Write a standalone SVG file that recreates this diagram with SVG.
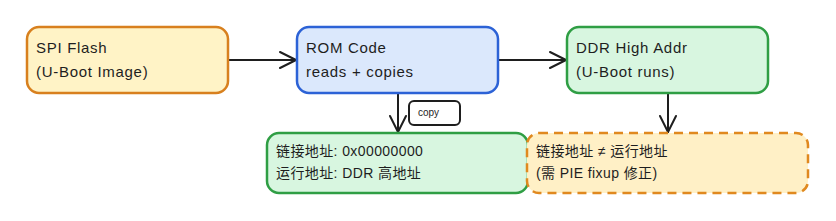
<svg xmlns="http://www.w3.org/2000/svg" width="836" height="221" viewBox="0 0 836 221">
<style>
text{font-family:"Liberation Sans","Noto Sans CJK SC",sans-serif;font-size:15px;letter-spacing:0.7px;fill:#1e1e1e}
.cjk{font-size:14px;letter-spacing:0.4px}
.lbl{font-size:10px;letter-spacing:0}
.edge{stroke:#1e1e1e;stroke-width:2;fill:none;stroke-linecap:round;stroke-linejoin:round}
.nd{stroke-width:2.5}
</style>
<defs>
<marker id="ah" viewBox="0 0 20 20" refX="18" refY="10" markerWidth="20" markerHeight="20" markerUnits="userSpaceOnUse" orient="auto">
<path d="M2,2 L18,10 L2,18" fill="none" stroke="#1e1e1e" stroke-width="2" stroke-linecap="round" stroke-linejoin="round"/>
</marker>
</defs>
<rect width="836" height="221" fill="#ffffff"/>
<g id="connectors">
<line class="edge" x1="228" y1="60" x2="296" y2="60" marker-end="url(#ah)"/>
<line class="edge" x1="498" y1="60" x2="566" y2="60" marker-end="url(#ah)"/>
<line class="edge" x1="398" y1="93" x2="398" y2="132" marker-end="url(#ah)"/>
<line class="edge" x1="668" y1="93" x2="668" y2="132" marker-end="url(#ah)"/>
<g id="copy-label">
<rect x="409" y="101" width="51" height="24" rx="5" fill="#ffffff" stroke="#1e1e1e" stroke-width="2"/>
<text class="lbl" x="418" y="116">copy</text>
</g>
</g>
<g id="spi-flash">
<rect class="nd" x="27" y="27" width="201" height="66" rx="12" fill="#fff3c6" stroke="#d8801e"/>
<text x="36" y="53">SPI Flash</text>
<text x="36" y="77">(U-Boot Image)</text>
</g>
<g id="rom-code">
<rect class="nd" x="297" y="27" width="201" height="66" rx="12" fill="#dbe8fc" stroke="#2c62d6"/>
<text x="306" y="53">ROM Code</text>
<text x="306" y="77">reads + copies</text>
</g>
<g id="ddr-high">
<rect class="nd" x="567" y="27" width="201" height="66" rx="12" fill="#d8f6e0" stroke="#2f9e44"/>
<text x="576" y="53">DDR High Addr</text>
<text x="576" y="77">(U-Boot runs)</text>
</g>
<g id="link-addr">
<rect class="nd" x="267" y="133" width="261" height="60" rx="12" fill="#d8f6e0" stroke="#2f9e44"/>
<text class="cjk" x="276" y="156">链接地址: 0x00000000</text>
<text class="cjk" x="276" y="178">运行地址: DDR 高地址</text>
</g>
<g id="pie-fixup">
<rect class="nd" x="527" y="133" width="281" height="60" rx="12" fill="#fff0c6" stroke="#e0891f" stroke-dasharray="9 6"/>
<text class="cjk" x="536" y="156">链接地址 ≠ 运行地址</text>
<text class="cjk" x="536" y="178">(需 PIE fixup 修正)</text>
</g>
</svg>
